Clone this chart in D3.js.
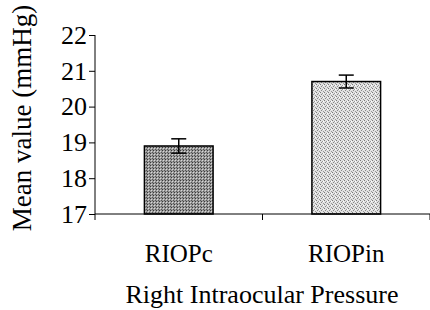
<!DOCTYPE html>
<html>
<head>
<meta charset="utf-8">
<script src="https://cdn.jsdelivr.net/npm/d3@7"></script>
<style>
body { margin: 0; background: #fff; }
text { font-family: "Liberation Serif", "Times New Roman", serif; fill: #000; }
</style>
</head>
<body>
<div id="container"></div>
<script>
// chart data
var categories = ["RIOPc", "RIOPin"];
var means = [18.9, 20.7];
var errors = [0.2, 0.18];
var yTicks = [17, 18, 19, 20, 21, 22];

var svgAttr = { width: 430, height: 310 };
var margin = { top: 35, right: 0, bottom: 96, left: 95 };

var svg = d3.select("#container").append("svg")
    .attr("width", svgAttr.width)
    .attr("height", svgAttr.height);

// fill patterns for the bars
var defs = svg.append("defs");
var p1 = defs.append("pattern").attr("id", "fillDark")
    .attr("patternUnits", "userSpaceOnUse").attr("width", 3).attr("height", 3);
p1.append("rect").attr("width", 3).attr("height", 3).attr("fill", "#9a9a9a");
p1.append("rect").attr("x", 0).attr("y", 0).attr("width", 1).attr("height", 1).attr("fill", "#3a3a3a");
p1.append("rect").attr("x", 1).attr("y", 1).attr("width", 1).attr("height", 1).attr("fill", "#d8d8d8");
p1.append("rect").attr("x", 2).attr("y", 2).attr("width", 1).attr("height", 1).attr("fill", "#555");

var p2 = defs.append("pattern").attr("id", "fillLight")
    .attr("patternUnits", "userSpaceOnUse").attr("width", 4).attr("height", 4);
p2.append("rect").attr("width", 4).attr("height", 4).attr("fill", "#e2e2e2");
p2.append("rect").attr("x", 0).attr("y", 0).attr("width", 1).attr("height", 1).attr("fill", "#7a7a7a");
p2.append("rect").attr("x", 2).attr("y", 1).attr("width", 1).attr("height", 1).attr("fill", "#999");
p2.append("rect").attr("x", 1).attr("y", 2).attr("width", 1).attr("height", 1).attr("fill", "#888");
p2.append("rect").attr("x", 3).attr("y", 3).attr("width", 1).attr("height", 1).attr("fill", "#999");
p2.append("rect").attr("x", 3).attr("y", 1).attr("width", 1).attr("height", 1).attr("fill", "#fff");
var fills = ["url(#fillDark)", "url(#fillLight)"];

var x = d3.scaleBand()
    .domain(categories)
    .range([margin.left, svgAttr.width - margin.right])
    .padding(0);
var y = d3.scaleLinear()
    .domain([17, 22])
    .range([svgAttr.height - margin.bottom, margin.top]);

var barW = x.bandwidth() * 0.41;

// y axis
var yAxis = svg.append("g")
    .attr("transform", "translate(" + margin.left + ",0)")
    .call(d3.axisLeft(y).tickValues(yTicks).tickSize(6).tickFormat(d3.format("d")));
yAxis.select(".domain").attr("stroke", "#000").attr("d", "M0," + y(22) + "V" + y(17));
yAxis.selectAll(".tick line").attr("stroke", "#000");
yAxis.selectAll(".tick text")
    .attr("x", -8)
    .style("font-size", "26px")
    .style("font-family", "Liberation Serif");

// bars
var groups = svg.selectAll(".bar").data(categories).enter().append("g").attr("class", "bar");
groups.append("rect")
    .attr("x", function (d) { return x(d) + (x.bandwidth() - barW) / 2; })
    .attr("y", function (d, i) { return y(means[i]); })
    .attr("width", barW)
    .attr("height", function (d, i) { return y(17) - y(means[i]); })
    .attr("fill", function (d, i) { return fills[i]; })
    .attr("stroke", "#000")
    .attr("stroke-width", 1.5);

// error bars
var cx = function (d) { return x(d) + x.bandwidth() / 2; };
groups.append("line")
    .attr("x1", cx).attr("x2", cx)
    .attr("y1", function (d, i) { return y(means[i] + errors[i]); })
    .attr("y2", function (d, i) { return y(means[i] - errors[i]); })
    .attr("stroke", "#000").attr("stroke-width", 1.5);
[1, -1].forEach(function (s) {
    groups.append("line")
        .attr("x1", function (d) { return cx(d) - 7.5; })
        .attr("x2", function (d) { return cx(d) + 7.5; })
        .attr("y1", function (d, i) { return y(means[i] + s * errors[i]); })
        .attr("y2", function (d, i) { return y(means[i] + s * errors[i]); })
        .attr("stroke", "#000").attr("stroke-width", 1.5);
});

// x axis
var x0 = y(17);
var xAxis = svg.append("g");
xAxis.append("line")
    .attr("x1", margin.left).attr("x2", svgAttr.width)
    .attr("y1", x0).attr("y2", x0)
    .attr("stroke", "#000");
var bounds = categories.map(function (d) { return x(d); }).concat([x.range()[1]]);
xAxis.selectAll(".xtick").data(bounds).enter().append("line")
    .attr("x1", function (d) { return d; }).attr("x2", function (d) { return d; })
    .attr("y1", x0).attr("y2", x0 + 6)
    .attr("stroke", "#000");
xAxis.selectAll(".xlabel").data(categories).enter().append("text")
    .attr("x", cx)
    .attr("y", 262)
    .attr("text-anchor", "middle")
    .style("font-size", "25px")
    .text(function (d) { return d; });

// axis titles
svg.append("text")
    .attr("x", 262)
    .attr("y", 303)
    .attr("text-anchor", "middle")
    .style("font-size", "26px")
    .text("Right Intraocular Pressure");
svg.append("text")
    .attr("transform", "translate(31," + 118 + ") rotate(-90)")
    .attr("text-anchor", "middle")
    .style("font-size", "27px")
    .text("Mean value (mmHg)");
</script>
</body>
</html>
